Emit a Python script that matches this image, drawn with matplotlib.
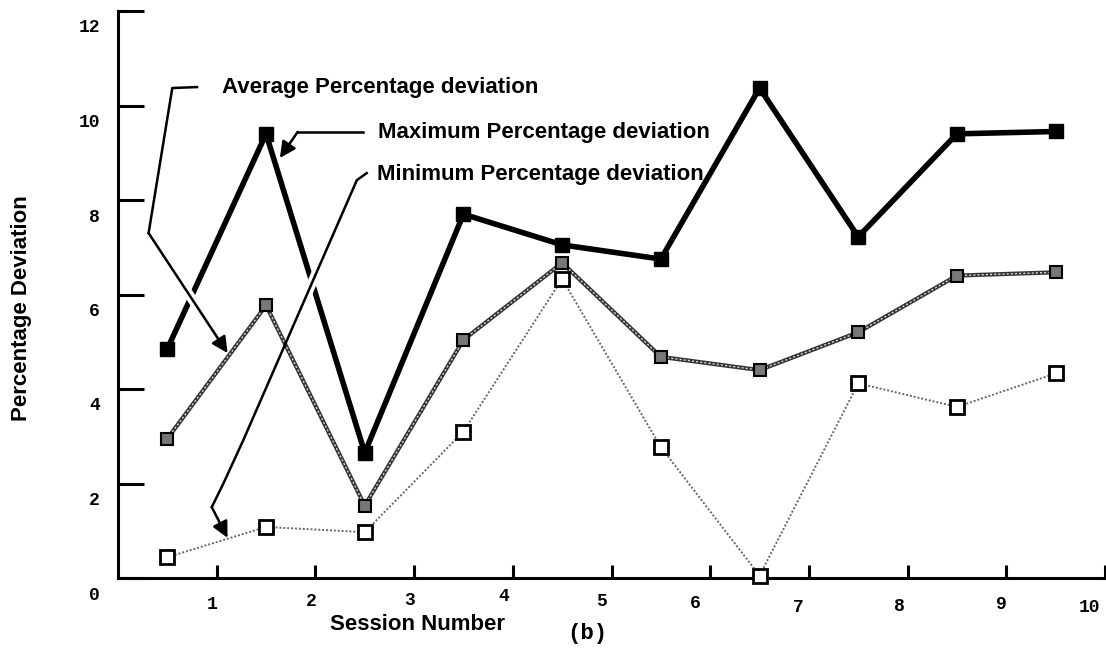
import matplotlib
matplotlib.use('Agg')
import matplotlib.pyplot as plt
import matplotlib.transforms as mtransforms

# session midpoints and deviations
sessions = [0.5, 1.5, 2.5, 3.5, 4.5, 5.5, 6.5, 7.5, 8.5, 9.5]
max_dev = [4.85, 9.4, 2.65, 7.7, 7.05, 6.75, 10.37, 7.22, 9.4, 9.45]
avg_dev = [2.95, 5.77, 1.53, 5.04, 6.67, 4.68, 4.4, 5.2, 6.4, 6.47]
min_dev = [0.44, 1.08, 0.97, 3.1, 6.33, 2.77, 0.05, 4.12, 3.62, 4.33]

x_ticks = [1, 2, 3, 4, 5, 6, 7, 8, 9, 10]
y_ticks = [0, 2, 4, 6, 8, 10, 12]

sans = 'Liberation Sans'
mono = 'Liberation Mono'

fig = plt.figure(figsize=(11.06, 6.48), dpi=100)
ax = fig.add_axes([118 / 1106, 70 / 648, 987 / 1106, 567 / 648])
ax.set_xlim(0, 10)
ax.set_ylim(0, 12)

for side in ['top', 'right']:
    ax.spines[side].set_visible(False)
for side in ['left', 'bottom']:
    ax.spines[side].set_linewidth(2.2)

ax.set_xticks(x_ticks)
ax.set_yticks(y_ticks)
ax.set_xticklabels([str(t) for t in x_ticks], family=mono, fontweight='bold', fontsize=13)
ax.set_yticklabels([str(t) for t in y_ticks], family=mono, fontweight='bold', fontsize=13)
ax.tick_params(axis='x', direction='in', length=9.5, width=2.2, pad=13)
ax.tick_params(axis='y', direction='in', length=19, width=2.2, pad=13)

# the scanned labels sit a little off their ticks (pixels: dx, dy up)
x_label_nudge = [(-5, 0), (-4, 3), (-5, 4), (-9, 8), (-10, 3),
                 (-15, 1), (-11, -3), (-8, -2), (-5, 0), (-16, -3)]
for lab, (dx, dy) in zip(ax.get_xticklabels(), x_label_nudge):
    off = mtransforms.ScaledTranslation(dx / 100, dy / 100, fig.dpi_scale_trans)
    lab.set_transform(lab.get_transform() + off)
shift_y = mtransforms.ScaledTranslation(0, -0.15, fig.dpi_scale_trans)
for lab in ax.get_yticklabels():
    lab.set_transform(lab.get_transform() + shift_y)

# maximum: thick black line, filled squares
ax.plot(sessions, max_dev, color='black', lw=4, marker='s', ms=9.5,
        mfc='black', mec='black', zorder=3, clip_on=False)

# average: grey chain line, shaded squares
ax.plot(sessions, avg_dev, color='#333333', lw=3, zorder=4)
ax.plot(sessions, avg_dev, color='#d8d8d8', lw=1, ls=(0, (1.5, 1.5)), zorder=4.1)
ax.plot(sessions, avg_dev, ls='none', marker='s', ms=9, mfc='#777777',
        mec='black', mew=1.5, zorder=5)

# minimum: dotted grey line, open squares
ax.plot(sessions, min_dev, color='#666666', lw=1.4, ls=(0, (1, 1)), zorder=4)
ax.plot(sessions, min_dev, ls='none', marker='s', ms=10, mfc='white',
        mec='black', mew=2, zorder=5, clip_on=False)


def leader(path, tip):
    xs = [p[0] for p in path] + [tip[0]]
    ys = [p[1] for p in path] + [tip[1]]
    ax.plot(xs, ys, color='white', lw=7, zorder=3.5, solid_capstyle='butt')
    ax.plot(xs[:-1], ys[:-1], color='black', lw=1.8, zorder=6)
    ax.annotate('', xy=tip, xytext=path[-1],
                arrowprops=dict(arrowstyle='-|>', color='black', lw=1.8,
                                mutation_scale=24, shrinkA=0, shrinkB=0),
                zorder=6)


leader([(0.80, 10.39), (0.55, 10.37), (0.31, 7.30)], (1.11, 4.76))
leader([(2.48, 9.44), (1.82, 9.44)], (1.64, 8.89))
leader([(2.52, 8.57), (2.42, 8.42), (1.27, 2.92), (1.07, 2.01), (0.95, 1.50)], (1.11, 0.85))

txt = dict(va='center', ha='left', fontsize=16, fontweight='bold', family=sans, zorder=7)
ax.text(1.05, 10.39, 'Average Percentage deviation', **txt)
ax.text(2.63, 9.42, 'Maximum Percentage deviation', **txt)
ax.text(2.62, 8.55, 'Minimum Percentage deviation', **txt)

fig.text(418 / 1106, 1 - 624 / 648, 'Session Number', ha='center', va='center',
         fontsize=16, fontweight='bold', family=sans)
fig.text(587 / 1106, 1 - 633 / 648, '(b)', ha='center', va='center',
         fontsize=16, fontweight='bold', family=mono)
fig.text(22 / 1106, 1 - 308 / 648, 'Percentage Deviation', ha='center', va='center',
         rotation=90, fontsize=16, fontweight='bold', family=sans)

fig.savefig('out.png', dpi=100)
